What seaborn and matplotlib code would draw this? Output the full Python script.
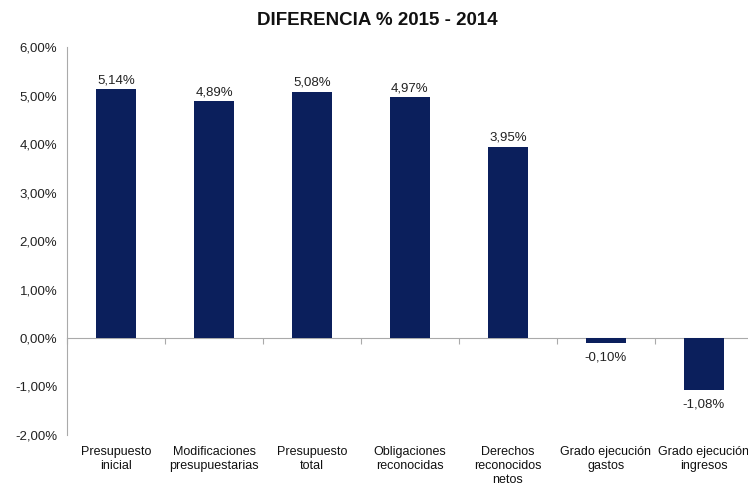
import numpy as np
import matplotlib.pyplot as plt
import seaborn as sns
import pandas as pd

categorias = ["Presupuesto\ninicial", "Modificaciones\npresupuestarias", "Presupuesto\ntotal",
              "Obligaciones\nreconocidas", "Derechos\nreconocidos\nnetos",
              "Grado ejecución\ngastos", "Grado ejecución\ningresos"]
valores = [5.14, 4.89, 5.08, 4.97, 3.95, -0.10, -1.08]
yticks = [-2, -1, 0, 1, 2, 3, 4, 5, 6]

sns.set_style("white")
plt.rcParams['font.family'] = ['Liberation Sans', 'DejaVu Sans']


def pct(v):
    return f"{v:.2f}%".replace(".", ",")


df = pd.DataFrame({"cat": categorias, "val": valores})

fig = plt.figure(figsize=(7.48, 4.86), dpi=100)
ax = fig.add_axes([0.0896, 0.105, 0.917, 0.798])
sns.barplot(data=df, x="cat", y="val", color="#0b1f5c", width=0.41, ax=ax,
            saturation=1, linewidth=0)

ax.set_xlim(-0.5, len(categorias) - 0.5)
ax.set_ylim(-2, 6)
ax.set_yticks(yticks)
ax.set_yticklabels([pct(v) for v in yticks], fontsize=9.5, color="#222222")
ax.tick_params(axis="y", length=4, color="#999999", pad=3)
ax.tick_params(axis="x", length=0, pad=8, labelsize=9, labelcolor="#111111")
ax.set_xlabel("")
ax.set_ylabel("")
for s in ["top", "right", "bottom"]:
    ax.spines[s].set_visible(False)
ax.spines["left"].set_color("#aaaaaa")

# zero line with category boundary ticks
sec = ax.secondary_xaxis(2 / 8)
sec.set_xticks(np.arange(len(categorias) + 1) - 0.5)
sec.set_xticklabels([])
sec.tick_params(length=4, color="#aaaaaa")
sec.spines["bottom"].set_color("#aaaaaa")

bars = ax.containers[0]
ax.bar_label(bars, labels=[pct(v) if v >= 0 else "" for v in valores],
             padding=2, fontsize=9.5, color="#222222")
ax.bar_label(bars, labels=[pct(v) if v < 0 else "" for v in valores],
             padding=6, fontsize=9.5, color="#222222")

fig.text(0.505, 0.958, "DIFERENCIA % 2015 - 2014", fontsize=13.5, fontweight="bold",
         ha="center", va="center", color="#111111")

plt.savefig("out.png", dpi=100)
plt.close()
